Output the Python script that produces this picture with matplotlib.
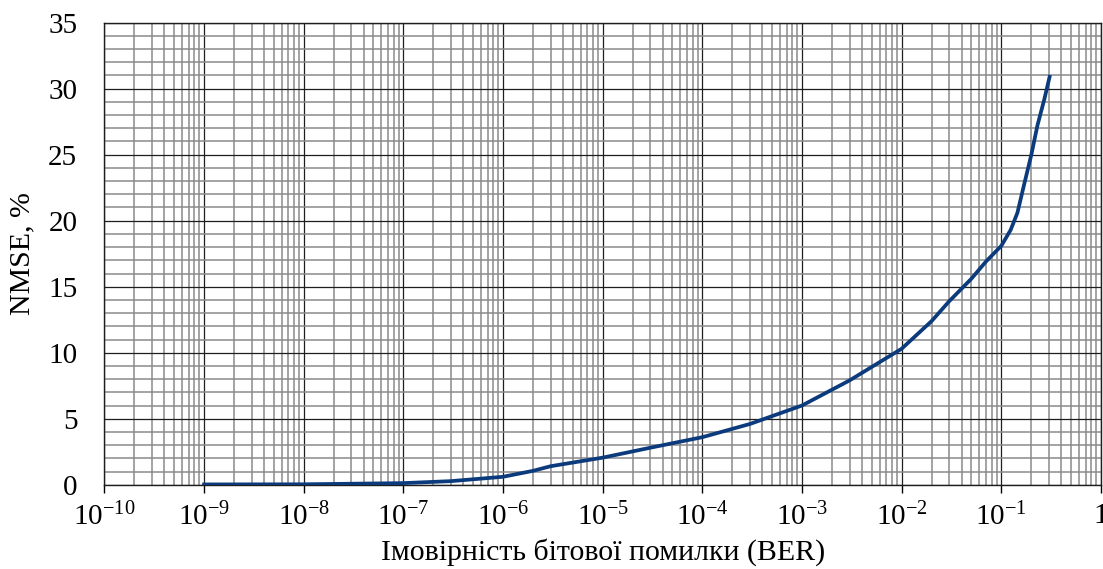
import numpy as np
import matplotlib.pyplot as plt
from matplotlib.ticker import LogLocator, MultipleLocator, FixedLocator, NullFormatter

plt.rcParams['font.family'] = ['Liberation Serif', 'DejaVu Serif']
plt.rcParams['mathtext.fontset'] = 'custom'
plt.rcParams['mathtext.rm'] = 'Liberation Serif'

# Data
ber = [1e-9, 1e-8, 1e-7, 3e-7, 1e-6, 2e-6, 3e-6, 1e-5, 3e-5, 1e-4, 3e-4,
       1e-3, 3e-3, 1e-2, 2e-2, 3e-2, 5e-2, 7e-2, 0.1, 0.124, 0.145,
       0.17, 0.2, 0.23, 0.27, 0.305]
nmse = [0.02, 0.03, 0.12, 0.27, 0.6, 1.05, 1.4, 2.05, 2.8, 3.6, 4.6,
        6.0, 7.9, 10.3, 12.4, 13.9, 15.6, 16.9, 18.1, 19.3, 20.6,
        22.8, 25.0, 27.2, 29.2, 30.9]

x_ticks = [10.0**k for k in range(-10, 1)]
x_labels = [r'$\mathregular{10^{%d}}$' % k for k in range(-10, 0)] + ['1']

W, H = 1103, 569
fig = plt.figure(figsize=(W/100, H/100), dpi=100)
ax = fig.add_axes([104.4/W, (H-484.7)/H, (1101-104.4)/W, (484.7-22.7)/H])

ax.plot(ber, nmse, color='#0b3b7c', lw=2.7, solid_joinstyle='round', zorder=3)

ax.set_xscale('log')
ax.set_xlim(1e-10, 1)
ax.set_ylim(0, 35)

ax.xaxis.set_major_locator(FixedLocator(x_ticks))
ax.set_xticklabels(x_labels)
ax.xaxis.set_minor_locator(LogLocator(base=10, subs=np.arange(2, 10), numticks=100))
ax.xaxis.set_minor_formatter(NullFormatter())
ax.yaxis.set_major_locator(MultipleLocator(5))
ax.yaxis.set_minor_locator(MultipleLocator(1))

ax.grid(which='minor', color='#8a8a8a', lw=1.1, zorder=1)
ax.grid(which='major', color='#1e1e1e', lw=0.9, zorder=2)

ax.tick_params(axis='x', which='major', length=6, width=1, direction='out',
               labelsize=21, pad=7, color='black')
ax.tick_params(axis='x', which='minor', length=0)
ax.tick_params(axis='y', which='both', length=0, labelsize=21, pad=19.5)

for s in ax.spines.values():
    s.set_color('#1e1e1e')
    s.set_linewidth(1)

ax.set_xlabel('Імовірність бітової помилки (BER)', fontsize=21.5, labelpad=5)
ax.set_ylabel('NMSE, %', fontsize=21.5, labelpad=9)

fig.savefig('out.png', dpi=100)
